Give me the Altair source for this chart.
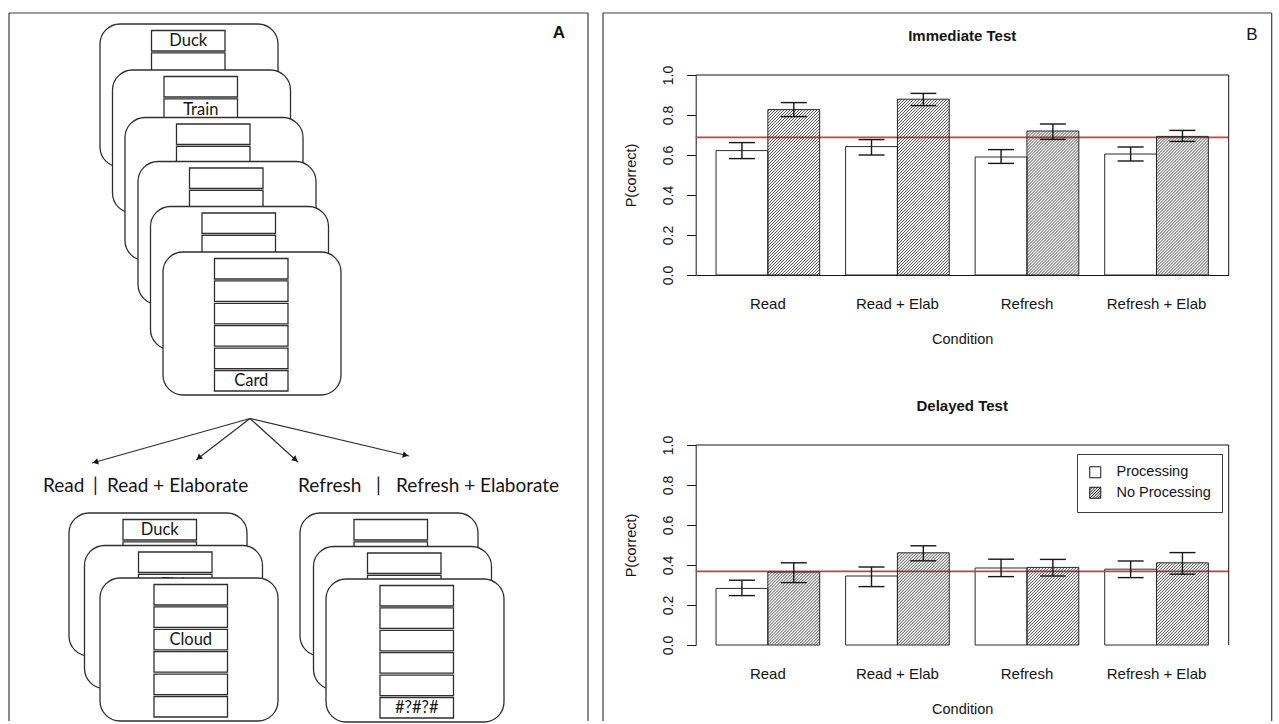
import math
import altair as alt
import pandas as pd

# ---------------- Panel B data ----------------
CONDITIONS = ["Read", "Read + Elab", "Refresh", "Refresh + Elab"]
TYPES = ["Processing", "No Processing"]

IMM_PROC = [0.622, 0.642, 0.590, 0.605]
IMM_PROC_LO = [0.582, 0.600, 0.558, 0.570]
IMM_PROC_HI = [0.662, 0.677, 0.627, 0.640]
IMM_NOPROC = [0.827, 0.879, 0.720, 0.693]
IMM_NOPROC_LO = [0.792, 0.847, 0.678, 0.668]
IMM_NOPROC_HI = [0.862, 0.908, 0.755, 0.723]
IMM_BASELINE = [0.688]

DEL_PROC = [0.283, 0.345, 0.385, 0.379]
DEL_PROC_LO = [0.247, 0.292, 0.342, 0.337]
DEL_PROC_HI = [0.324, 0.390, 0.429, 0.420]
DEL_NOPROC = [0.365, 0.461, 0.388, 0.411]
DEL_NOPROC_LO = [0.312, 0.421, 0.345, 0.354]
DEL_NOPROC_HI = [0.411, 0.496, 0.428, 0.462]
DEL_BASELINE = [0.368]

Y_TICKS = [0.0, 0.2, 0.4, 0.6, 0.8, 1.0]

# ---------------- Panel A content (diagram) ----------------
TOP_WORDS = [("Duck", 0, 0), ("Train", 1, 1), ("Card", 5, 5)]
BL_WORDS = [("Duck", 0, 0), ("Fish", 1, 1), ("Cloud", 2, 2)]
BR_WORDS = [("#?#?#", 2, 5)]
CONDITION_LABELS = ["Read", "|", "Read + Elaborate", "Refresh", "|", "Refresh + Elaborate"]

# ---------------- layout / styling ----------------
TOP_CARD_LEFT = [100, 112.5, 125, 138, 150.5, 163]
TOP_CARD_TOP = [21, 67, 114.5, 158.5, 203.5, 249]
BL_CARD_LEFT = [69, 84.5, 100]
BL_CARD_TOP = [510, 542.5, 575]
BR_CARD_LEFT = [300, 313.5, 326]
BR_CARD_TOP = [510, 543.5, 576]
CARD_W, CARD_H, CARD_R = 178, 143, 20
BOX_W, BOX_H, BOX_STEP, BOX_DY, N_SLOTS = 73.5, 20.5, 22.4, 6.5, 6
ARROW_ORIGIN = (250, 415.5)
ARROW_TIP_X = [92, 196, 298, 409]
ARROW_TIP_Y = [460, 457, 459, 453]
LABEL_X = [43, 93, 107, 298, 376, 396]
LABEL_Y = 482.5

A_W, A_H = 596, 718
PLOT_W, PLOT_H = 533, 200
PAD_INNER, PAD_OUTER = 0.2, 0.157
STEP = PLOT_W / (len(CONDITIONS) - PAD_INNER + 2 * PAD_OUTER)
BAR_W = STEP * (1 - PAD_INNER) / 2
CAP_W = 26
HATCH_GAP = 3.0

INK = "#151515"
BAR_EDGE = "#2a2a2a"
HATCH_COLOR = "#2a2a2a"
PANEL_LINE = "#3c3c3c"
CARD_LINE = "#2e2e2e"
RED_IMM = "#d23c3c"
RED_DEL = "#b04747"
B_FONT = "Liberation Sans"
A_FONT = "Lato"

SQUARE = "M-1,-1H1V1H-1Z"
HATCH_SQUARE = ("M-1,-1H1V1H-1Z M-1,-0.5L-0.5,-1 M-1,0L0,-1 M-1,0.5L0.5,-1 "
                "M-1,1L1,-1 M-0.5,1L1,-0.5 M0,1L1,0 M0.5,1L1,0.5")


def hatch_segments(values):
    """45-degree hatch strokes clipped to each 'No Processing' bar (derived from values)."""
    rows = []
    for i, v in enumerate(values):
        bl = (PAD_OUTER + i) * STEP + BAR_W
        br = bl + BAR_W
        h = v * PLOT_H
        c = bl - h + HATCH_GAP / 2
        while c < br:
            d0 = max(0.0, bl - c)
            d1 = min(br - c, h)
            if d1 > d0:
                rows.append({"hx": c + d0, "hy": d0 / PLOT_H,
                             "hx2": c + d1, "hy2": d1 / PLOT_H})
            c += HATCH_GAP
    return pd.DataFrame(rows)


def panel(title, proc, proc_lo, proc_hi, nop, nop_lo, nop_hi, baseline, red,
          bottom_line, with_legend):
    df = pd.DataFrame({
        "cond": CONDITIONS * 2,
        "type": [TYPES[0]] * len(CONDITIONS) + [TYPES[1]] * len(CONDITIONS),
        "p": proc + nop,
        "lo": proc_lo + nop_lo,
        "hi": proc_hi + nop_hi,
    })
    x_scale = alt.Scale(domain=CONDITIONS, paddingInner=PAD_INNER, paddingOuter=PAD_OUTER)
    x_axis = alt.Axis(title="Condition", labelAngle=0, ticks=False, tickSize=0,
                      domain=bottom_line, domainColor=INK, domainWidth=1,
                      labelPadding=28, labelBaseline="middle", labelFontSize=15,
                      labelColor=INK, labelFont=B_FONT, titleFont=B_FONT,
                      titleFontSize=14.5, titleFontWeight="normal", titleColor=INK,
                      titleX=PLOT_W / 2, titleY=64.7, titleBaseline="middle",
                      titleAlign="center")
    x_enc = alt.X("cond:N", sort=CONDITIONS, scale=x_scale, axis=x_axis)
    x_enc2 = alt.X("cond:N", sort=CONDITIONS, scale=x_scale, axis=None)
    xo_enc = alt.XOffset("type:N", sort=TYPES,
                         scale=alt.Scale(domain=TYPES, paddingInner=0, paddingOuter=0))
    y_axis = alt.Axis(title="P(correct)", values=Y_TICKS, format=".1f", grid=False,
                      labelAngle=270, labelAlign="center", labelBaseline="middle",
                      labelPadding=18.7, tickSize=9, tickColor=INK, tickWidth=1,
                      domainColor=INK, domainWidth=1, labelFontSize=14, labelFont=B_FONT,
                      labelColor=INK, titleFont=B_FONT, titleFontSize=14.5,
                      titleFontWeight="normal", titleColor=INK, titleAngle=270,
                      titleX=-64, titleY=PLOT_H / 2, titleAlign="center",
                      titleBaseline="middle")
    y_scale = alt.Scale(domain=[0, 1], nice=False, zero=True)

    def yq(f):
        return alt.Y(f, type="quantitative", scale=y_scale, axis=y_axis)

    # lower group: white bars + reference line
    lower = alt.layer(
        alt.Chart(df).transform_filter(alt.datum.type == TYPES[0])
        .mark_bar(fill="white", stroke=BAR_EDGE, strokeWidth=1)
        .encode(x=x_enc, xOffset=xo_enc, y=yq("p")),
        alt.Chart(pd.DataFrame({"b": baseline}))
        .mark_rule(color=red, strokeWidth=1.6)
        .encode(y=yq("b"), x=alt.value(0), x2=alt.value(PLOT_W)),
    )
    # hatch strokes for the 'No Processing' bars
    hatch = (
        alt.Chart(hatch_segments(nop))
        .mark_rule(color=HATCH_COLOR, strokeWidth=0.85)
        .encode(x=alt.X("hx:Q", scale=alt.Scale(domain=[0, PLOT_W], nice=False, zero=False),
                        axis=None),
                x2="hx2", y=yq("hy"), y2="hy2")
    )
    up_layers = [
        alt.Chart(df).transform_filter(alt.datum.type == TYPES[1])
        .mark_bar(fill="transparent", stroke=BAR_EDGE, strokeWidth=1)
        .encode(x=x_enc2, xOffset=xo_enc, y=yq("p")),
        alt.Chart(df).mark_rule(color=INK, strokeWidth=1.4)
        .encode(x=x_enc2, xOffset=xo_enc, y=yq("lo"), y2="hi"),
    ]
    for f in ["lo", "hi"]:
        up_layers.append(
            alt.Chart(df).mark_tick(color=INK, thickness=1.4, size=CAP_W, opacity=1)
            .encode(x=x_enc2, xOffset=xo_enc, y=yq(f))
        )
    one = pd.DataFrame({"k": [0]})
    up_layers.append(
        alt.Chart(one).mark_rule(color=INK, strokeWidth=1)
        .encode(x=alt.value(0), x2=alt.value(PLOT_W), y=alt.value(0))
    )
    up_layers.append(
        alt.Chart(one).mark_rule(color=INK, strokeWidth=1)
        .encode(x=alt.value(PLOT_W), y=alt.value(0), y2=alt.value(PLOT_H))
    )
    if with_legend:
        up_layers.append(
            alt.Chart(pd.DataFrame({"type": TYPES}))
            .mark_point(opacity=0, color=INK, filled=False, strokeWidth=1)
            .encode(shape=alt.Shape(
                "type:N", sort=TYPES,
                scale=alt.Scale(domain=TYPES, range=[SQUARE, HATCH_SQUARE]),
                legend=alt.Legend(title=None, orient="none", legendX=381.3, legendY=9,
                                  direction="vertical", strokeColor=PANEL_LINE,
                                  fillColor="white", padding=11, rowPadding=4.5,
                                  symbolSize=121, symbolStrokeColor=INK,
                                  symbolFillColor="white", symbolStrokeWidth=1,
                                  symbolOpacity=1, labelFont=B_FONT, labelFontSize=14.5,
                                  labelColor=INK, labelOffset=14, cornerRadius=0)))
        )
    upper = alt.layer(*up_layers)
    return alt.layer(lower, hatch, upper).resolve_scale(x="independent").properties(
        width=PLOT_W, height=PLOT_H,
        title=alt.TitleParams(text=title, font=B_FONT, fontSize=15, fontWeight="bold",
                              color=INK, anchor="middle", frame="group", offset=6,
                              baseline="bottom"),
    )


# ---------------- Panel A (diagram) ----------------
sx = alt.Scale(domain=[0, A_W], nice=False, zero=False)
sy = alt.Scale(domain=[0, A_H], nice=False, zero=False, reverse=True)


def ax_(f):
    return alt.X(f, type="quantitative", scale=sx, axis=None)


def ay_(f):
    return alt.Y(f, type="quantitative", scale=sy, axis=None)


a_layers = []


def add_stack(lefts, tops, words, box_dx):
    for i, (l, t) in enumerate(zip(lefts, tops)):
        card = pd.DataFrame({"x": [l], "x2": [l + CARD_W], "y": [t], "y2": [t + CARD_H]})
        a_layers.append(
            alt.Chart(card).mark_rect(cornerRadius=CARD_R, fill="white", stroke=CARD_LINE,
                                      strokeWidth=1.3)
            .encode(x=ax_("x"), x2="x2", y=ay_("y"), y2="y2")
        )
        bx = l + box_dx
        ys = [t + BOX_DY + k * BOX_STEP for k in range(N_SLOTS)]
        boxes = pd.DataFrame({"x": [bx] * N_SLOTS, "x2": [bx + BOX_W] * N_SLOTS,
                              "y": ys, "y2": [v + BOX_H for v in ys]})
        a_layers.append(
            alt.Chart(boxes).mark_rect(fill="white", stroke=CARD_LINE, strokeWidth=1.3)
            .encode(x=ax_("x"), x2="x2", y=ay_("y"), y2="y2")
        )
        ws = [(w, slot) for (w, ci, slot) in words if ci == i]
        if ws:
            tdf = pd.DataFrame({
                "x": [bx + BOX_W / 2] * len(ws),
                "y": [t + BOX_DY + slot * BOX_STEP + BOX_H / 2 + 0.5 for (_, slot) in ws],
                "t": [w for (w, _) in ws],
            })
            a_layers.append(
                alt.Chart(tdf).mark_text(font=A_FONT, fontSize=16.5, color=INK,
                                         align="center", baseline="middle")
                .encode(x=ax_("x"), y=ay_("y"), text="t:N")
            )


# panel borders (A and B)
borders = pd.DataFrame({
    "x": [9, 9, 588, 603, 603, 1271.7],
    "x2": [9, 588, 588, 603, 1271.7, 1271.7],
    "y": [10, 10, 10, 10, 10, 10],
    "y2": [A_H, 10, A_H, A_H, 10, A_H],
})
a_layers.append(
    alt.Chart(borders).mark_rule(color=PANEL_LINE, strokeWidth=1.2)
    .encode(x=ax_("x"), x2="x2", y=ay_("y"), y2="y2")
)
panel_labels = pd.DataFrame({"x": [559, 1252], "y": [30, 31.5], "t": ["A", "B"]})
a_layers.append(
    alt.Chart(panel_labels.iloc[[0]]).mark_text(font=B_FONT, fontSize=17, fontWeight="bold",
                                                color=INK, align="center", baseline="middle")
    .encode(x=ax_("x"), y=ay_("y"), text="t:N")
)
a_layers.append(
    alt.Chart(panel_labels.iloc[[1]]).mark_text(font=B_FONT, fontSize=17, color=INK,
                                                align="center", baseline="middle")
    .encode(x=ax_("x"), y=ay_("y"), text="t:N")
)

add_stack(TOP_CARD_LEFT, TOP_CARD_TOP, TOP_WORDS, 51.5)

# arrows
ox, oy = ARROW_ORIGIN
arr = pd.DataFrame({"x": [ox] * len(ARROW_TIP_X), "y": [oy] * len(ARROW_TIP_X),
                    "x2": ARROW_TIP_X, "y2": ARROW_TIP_Y})
a_layers.append(
    alt.Chart(arr).mark_rule(color=CARD_LINE, strokeWidth=1.2)
    .encode(x=ax_("x"), y=ay_("y"), x2="x2", y2="y2")
)
heads = []
for tx, ty in zip(ARROW_TIP_X, ARROW_TIP_Y):
    dx, dy = tx - ox, ty - oy
    L = math.hypot(dx, dy)
    ang = math.degrees(math.atan2(dx, -dy)) % 360
    heads.append({"x": tx - dx / L * 3.5, "y": ty - dy / L * 3.5, "ang": ang})
a_layers.append(
    alt.Chart(pd.DataFrame(heads)).mark_point(shape="triangle-up", filled=True, size=42,
                                              color=INK, opacity=1)
    .encode(x=ax_("x"), y=ay_("y"), angle=alt.Angle("ang:Q", scale=None))
)
lab = pd.DataFrame({"x": LABEL_X, "y": [LABEL_Y] * len(LABEL_X), "t": CONDITION_LABELS})
a_layers.append(
    alt.Chart(lab).mark_text(font=A_FONT, fontSize=19, color=INK, align="left",
                             baseline="middle")
    .encode(x=ax_("x"), y=ay_("y"), text="t:N")
)

add_stack(BL_CARD_LEFT, BL_CARD_TOP, BL_WORDS, 54)
add_stack(BR_CARD_LEFT, BR_CARD_TOP, BR_WORDS, 54)

panel_a = alt.layer(*a_layers).properties(width=A_W, height=A_H)

# ---------------- Panel B ----------------
imm = panel("Immediate Test", IMM_PROC, IMM_PROC_LO, IMM_PROC_HI, IMM_NOPROC,
            IMM_NOPROC_LO, IMM_NOPROC_HI, IMM_BASELINE, RED_IMM, True, False)
dele = panel("Delayed Test", DEL_PROC, DEL_PROC_LO, DEL_PROC_HI, DEL_NOPROC,
             DEL_NOPROC_LO, DEL_NOPROC_HI, DEL_BASELINE, RED_DEL, False, True)

spacer = alt.Chart(pd.DataFrame({"v": [0]})).mark_point(opacity=0).encode(
    x=alt.X("v:Q", axis=None), y=alt.Y("v:Q", axis=None)
).properties(width=PLOT_W, height=1)

charts_b = alt.vconcat(imm, dele, spacing=170, bounds="flush").resolve_legend(
    shape="independent").resolve_scale(shape="independent")
col_b = alt.vconcat(spacer, charts_b, spacing=71, bounds="flush").resolve_legend(
    shape="independent").resolve_scale(shape="independent")

chart = (
    alt.hconcat(panel_a, col_b, spacing=99.7, bounds="flush")
    .resolve_legend(shape="independent")
    .resolve_scale(shape="independent")
    .properties(padding=0, background="white")
    .configure_view(stroke=None)
)

chart.save("out.html", embed_options={"renderer": "svg", "actions": False})
